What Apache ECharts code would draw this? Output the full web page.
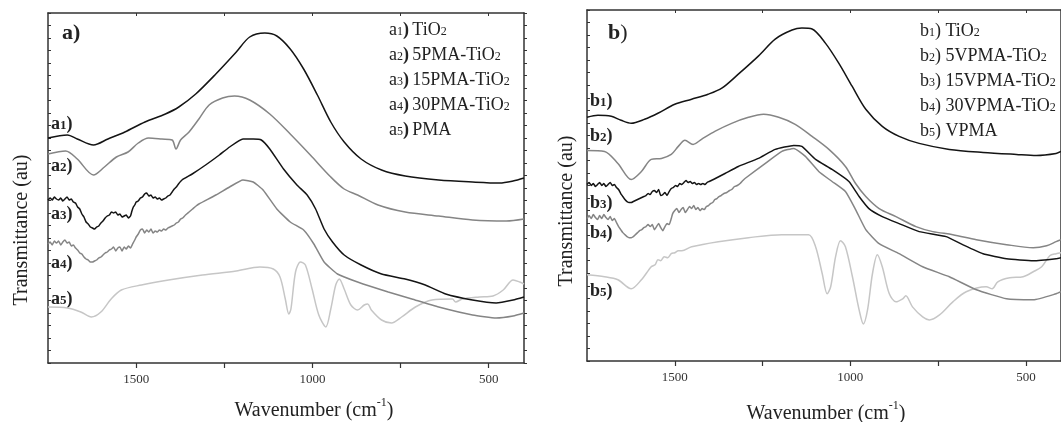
<!DOCTYPE html>
<html>
<head>
<meta charset="utf-8">
<script src="https://cdn.jsdelivr.net/npm/echarts@6/dist/echarts.min.js"></script>
<style>
html,body{margin:0;padding:0;background:#fff;}
#chart{width:1061px;height:422px;}
</style>
</head>
<body>
<div id="chart"></div>
<script>
// ---- Data: [wavenumber (cm-1), transmittance (au)] ----
const xTicks = [1500, 1250, 1000, 750, 500];
const xLabels = [1500, 1000, 500];

// Panel a
const a1 = [[1750,225],[1695,228],[1667,224],[1621,218],[1580,224],[1532,231],[1475,241],[1417,249],[1379,256],[1331,269],[1274,289],[1216,311],[1178,326],[1135,330],[1101,327],[1063,314],[1025,294],[986,268],[948,241],[910,221],[862,204],[804,193],[737,187],[642,183],[546,181],[469,180],[431,182],[400,185]];
const a2 = [[1750,209],[1700,212],[1667,204],[1621,188],[1590,196],[1556,206],[1523,211],[1494,220],[1465,225],[1427,224],[1398,223],[1387,214],[1374,223],[1350,231],[1322,244],[1293,258],[1255,265],[1221,267],[1178,263],[1121,249],[1063,229],[1006,208],[948,186],[910,174],[872,168],[814,158],[737,151],[642,147],[546,143],[450,142],[400,144]];
const a3 = [[1750,163],[1744,165],[1738,163],[1732,166],[1726,164],[1720,163],[1714,165],[1708,162],[1702,164],[1696,166],[1690,163],[1684,164],[1678,161],[1672,160],[1666,156],[1660,154],[1654,149],[1648,146],[1642,141],[1636,139],[1630,136],[1624,135],[1618,134],[1612,136],[1606,137],[1600,140],[1594,142],[1588,145],[1582,147],[1576,148],[1570,151],[1564,150],[1558,151],[1552,148],[1546,149],[1540,146],[1534,147],[1528,148],[1522,145],[1516,147],[1512,152],[1508,156],[1504,158],[1500,161],[1494,162],[1488,165],[1482,166],[1476,169],[1470,170],[1464,167],[1458,168],[1452,165],[1446,166],[1440,164],[1434,165],[1428,163],[1422,164],[1416,165],[1410,167],[1404,168],[1398,171],[1392,174],[1386,176],[1380,179],[1370,183],[1341,189],[1303,198],[1264,208],[1235,216],[1197,224],[1168,224],[1145,223],[1121,214],[1082,194],[1044,178],[1015,168],[991,154],[967,134],[943,121],[910,108],[862,98],[804,89],[737,84],[680,78],[622,69],[546,63],[479,60],[431,63],[400,66]];
const a4 = [[1750,119],[1744,121],[1738,118],[1732,122],[1726,120],[1720,122],[1714,118],[1708,121],[1702,123],[1696,120],[1690,121],[1684,117],[1678,118],[1672,115],[1666,113],[1660,110],[1654,109],[1648,106],[1642,104],[1636,103],[1630,101],[1624,101],[1618,102],[1612,103],[1606,105],[1600,106],[1594,108],[1588,110],[1582,111],[1576,113],[1570,114],[1564,116],[1558,112],[1552,115],[1546,116],[1540,112],[1534,116],[1528,114],[1522,117],[1516,115],[1510,119],[1504,123],[1500,126],[1494,129],[1488,133],[1482,134],[1476,130],[1470,133],[1464,131],[1458,134],[1452,130],[1446,132],[1440,131],[1434,133],[1428,132],[1422,134],[1416,133],[1410,135],[1404,136],[1398,137],[1392,138],[1386,140],[1380,141],[1374,144],[1368,145],[1360,148],[1350,151],[1340,154],[1330,157],[1322,159],[1274,168],[1235,176],[1197,183],[1168,181],[1140,173],[1101,154],[1063,141],[1025,133],[996,119],[967,101],[929,89],[872,81],[785,71],[718,64],[642,56],[546,48],[479,45],[431,47],[400,50]];
const a5 = [[1750,56],[1695,55],[1657,51],[1627,46],[1600,51],[1571,64],[1542,73],[1485,78],[1408,83],[1312,88],[1216,92],[1149,96],[1111,94],[1092,86],[1077,64],[1067,49],[1061,54],[1048,91],[1034,101],[1020,98],[1001,74],[982,48],[962,36],[948,54],[934,78],[924,84],[910,74],[891,58],[872,53],[853,58],[843,59],[833,53],[804,43],[776,40],[747,46],[708,56],[661,63],[603,64],[594,61],[575,64],[527,66],[488,67],[459,73],[431,83],[412,81],[400,79]];

// Panel b
const b1 = [[1750,243],[1719,245],[1681,244],[1653,240],[1624,237],[1586,241],[1548,247],[1500,256],[1452,261],[1405,266],[1366,272],[1319,286],[1262,304],[1214,321],[1166,330],[1138,332],[1109,331],[1071,317],[1033,297],[995,274],[956,251],[909,234],[861,224],[804,217],[718,211],[622,208],[527,206],[470,205],[414,207],[400,209]];
const b2 = [[1750,210],[1700,209],[1662,197],[1624,181],[1595,189],[1567,201],[1538,202],[1510,206],[1490,214],[1471,220],[1448,216],[1424,221],[1386,229],[1338,237],[1290,243],[1247,246],[1204,243],[1157,236],[1109,224],[1061,211],[1014,194],[985,177],[956,164],[918,152],[870,144],[813,134],[765,129],[708,126],[641,121],[555,116],[479,113],[441,115],[414,119],[400,121]];
const b3 = [[1750,176],[1744,178],[1738,175],[1732,177],[1726,174],[1720,176],[1714,178],[1708,175],[1702,177],[1696,174],[1690,176],[1684,178],[1678,175],[1672,176],[1666,173],[1660,171],[1654,167],[1648,164],[1642,161],[1636,159],[1630,158],[1624,158],[1618,159],[1612,160],[1606,161],[1600,162],[1594,163],[1588,164],[1582,165],[1576,167],[1570,166],[1564,169],[1558,170],[1552,168],[1546,171],[1540,165],[1534,166],[1528,168],[1522,165],[1516,169],[1510,172],[1504,173],[1498,175],[1492,174],[1486,177],[1480,176],[1474,178],[1468,180],[1462,178],[1456,179],[1450,177],[1444,178],[1438,176],[1432,177],[1426,176],[1420,177],[1414,176],[1408,178],[1402,179],[1396,180],[1390,181],[1357,187],[1319,194],[1262,202],[1214,211],[1161,215],[1138,214],[1099,201],[1052,191],[1004,179],[975,164],[947,152],[909,144],[861,137],[804,129],[727,124],[680,116],[622,107],[555,102],[479,100],[414,102],[400,103]];
const b4 = [[1750,142],[1744,145],[1738,142],[1732,146],[1726,143],[1720,141],[1714,145],[1708,142],[1702,146],[1696,143],[1690,141],[1684,144],[1678,140],[1672,142],[1666,138],[1660,134],[1654,131],[1648,128],[1642,126],[1636,124],[1630,123],[1624,123],[1618,124],[1612,126],[1606,128],[1600,130],[1594,131],[1588,133],[1582,134],[1576,136],[1570,134],[1564,136],[1558,131],[1552,134],[1546,137],[1540,133],[1534,130],[1528,134],[1522,137],[1516,136],[1510,142],[1506,147],[1500,150],[1494,152],[1488,148],[1482,151],[1476,153],[1470,148],[1464,151],[1458,154],[1452,152],[1446,155],[1440,151],[1434,153],[1428,150],[1422,152],[1416,151],[1410,154],[1404,155],[1398,157],[1392,158],[1386,161],[1380,162],[1374,164],[1368,165],[1360,167],[1352,168],[1344,170],[1338,171],[1330,174],[1322,175],[1314,177],[1306,180],[1300,182],[1242,197],[1195,209],[1161,212],[1128,204],[1090,189],[1052,179],[1014,169],[985,151],[956,131],[918,117],[861,107],[794,94],[718,84],[641,71],[555,62],[479,61],[414,67],[400,69]];
const b5 = [[1750,86],[1700,84],[1662,81],[1624,72],[1595,81],[1567,94],[1556,96],[1548,101],[1540,100],[1530,104],[1520,103],[1510,107],[1500,108],[1490,110],[1480,110],[1452,114],[1376,119],[1290,123],[1195,126],[1119,126],[1099,114],[1080,87],[1066,67],[1056,74],[1042,104],[1028,120],[1014,114],[994,84],[975,51],[963,37],[951,51],[937,87],[923,106],[909,94],[889,67],[870,59],[851,62],[842,65],[823,54],[794,44],[775,41],[746,46],[708,59],[670,69],[613,74],[596,72],[580,79],[546,83],[508,84],[479,89],[455,94],[432,105],[414,107],[400,108]];

const legendA = ['TiO', '5PMA-TiO', '15PMA-TiO', '30PMA-TiO', 'PMA'];
const legendB = ['TiO', '5VPMA-TiO', '15VPMA-TiO', '30VPMA-TiO', 'VPMA'];

// ---- Styling ----
const SERIF = 'Liberation Serif, Times New Roman, serif';
const BLACK = '#141414', GRAY = '#858585', LIGHT = '#c6c6c6';
const axisCol = '#333';

function xAxes(gi) {
  const base = {
    gridIndex: gi, type: 'value', min: 400, max: 1750, inverse: true,
    splitLine: {show: false},
    axisLine: {show: true, onZero: false, lineStyle: {color: axisCol, width: 1.5}}
  };
  return [
    Object.assign({}, base, {
      position: 'bottom',
      axisTick: {show: true, inside: false, length: 5, customValues: xTicks, lineStyle: {color: axisCol, width: 1.2}},
      axisLabel: {show: true, customValues: xLabels, formatter: v => String(v), fontFamily: SERIF, fontSize: 13, color: '#333', margin: 10}
    }),
    Object.assign({}, base, {
      position: 'top',
      axisTick: {show: true, inside: true, length: 3, customValues: xTicks, lineStyle: {color: axisCol}},
      axisLabel: {show: false}
    })
  ];
}
function yAxes(gi) {
  const base = {
    gridIndex: gi, type: 'value', min: 0, max: 350, interval: 12.5,
    splitLine: {show: false}, axisLabel: {show: false},
    axisLine: {show: true, onZero: false, lineStyle: {color: axisCol, width: 1.5}}
  };
  return [
    Object.assign({}, base, {position: 'left', axisTick: {show: true, inside: true, length: 3, lineStyle: {color: axisCol}}}),
    Object.assign({}, base, {position: 'right', axisTick: {show: true, inside: false, length: 3, lineStyle: {color: axisCol}}})
  ];
}

function line(data, xi, yi, color, noisy) {
  return {
    type: 'line', data: data, xAxisIndex: xi, yAxisIndex: yi,
    showSymbol: false, symbol: 'none', smooth: noisy ? 0.15 : 0.3,
    lineStyle: {color: color, width: 1.5}, silent: true, animation: false
  };
}

const graphics = [];
function txt(x, y, text, rich) {
  graphics.push({
    type: 'text', x: x, y: y,
    style: {text: text, rich: rich, fill: '#222', align: 'left', verticalAlign: 'middle'}
  });
}
const richLabel = {
  b: {fontFamily: SERIF, fontSize: 18, fontWeight: 'bold', color: '#222', lineHeight: 20, verticalAlign: 'bottom'},
  s: {fontFamily: SERIF, fontSize: 13, fontWeight: 'bold', color: '#222', lineHeight: 20, verticalAlign: 'bottom', padding: [0,0,1,0]},
  n: {fontFamily: SERIF, fontSize: 18, color: '#222', lineHeight: 20, verticalAlign: 'bottom'}
};
const richLeg = {
  n: {fontFamily: SERIF, fontSize: 18, color: '#222', lineHeight: 22, verticalAlign: 'bottom'},
  s: {fontFamily: SERIF, fontSize: 12, color: '#222', lineHeight: 22, verticalAlign: 'bottom', padding: [0,0,1,0]},
  bn: {fontFamily: SERIF, fontSize: 18, fontWeight: 'bold', color: '#222', lineHeight: 22, verticalAlign: 'bottom'}
};
const richTitle = {
  n: {fontFamily: SERIF, fontSize: 20, color: '#222', lineHeight: 24, verticalAlign: 'bottom'},
  sup: {fontFamily: SERIF, fontSize: 12, color: '#222', lineHeight: 24, verticalAlign: 'top'}
};

// panel letters
txt(62, 34, '{b|a)}', {b: Object.assign({}, richLabel.b, {fontSize: 22})});
txt(608, 34, '{b|b}{n|)}', {b: Object.assign({}, richLabel.b, {fontSize: 22}), n: Object.assign({}, richLabel.n, {fontSize: 22})});

// curve labels
const labA = [123, 165, 213, 262, 298];
const labB = [100, 135, 202, 232, 290];
labA.forEach((y, i) => txt(51, y, '{b|a}{s|' + (i + 1) + '}{b|)}', richLabel));
labB.forEach((y, i) => txt(590, y, '{b|b}{s|' + (i + 1) + '}{b|)}', richLabel));

// legends
const legYA = [28, 53, 78, 103, 128];
const legYB = [29, 54, 79, 104, 129];
legendA.forEach((t, i) => {
  const sub = t.endsWith('TiO') ? '{s|2}' : '';
  txt(389, legYA[i], '{n|a}{s|' + (i + 1) + '}{bn|)} {n|' + t + '}' + sub, richLeg);
});
legendB.forEach((t, i) => {
  const sub = t.endsWith('TiO') ? '{s|2}' : '';
  txt(920, legYB[i], '{n|b}{s|' + (i + 1) + '}{n|) ' + t + '}' + sub, richLeg);
});

// axis titles
function titleText(x, y, text, rot) {
  graphics.push({type: 'text', x: x, y: y, rotation: rot || 0,
    style: {text: text, rich: richTitle, fill: '#222', align: 'center', verticalAlign: 'middle'}});
}
titleText(20, 230, '{n|Transmittance (au)}', Math.PI / 2);
titleText(565, 211, '{n|Transmittance (au)}', Math.PI / 2);
titleText(314, 409, '{n|Wavenumber (cm}{sup|-1}{n|)}');
titleText(826, 412, '{n|Wavenumber (cm}{sup|-1}{n|)}');

const chart = echarts.init(document.getElementById('chart'), null, {renderer: 'canvas'});
chart.setOption({
  backgroundColor: '#fff',
  animation: false,
  grid: [
    {left: 48, top: 13, width: 476, height: 350},
    {left: 587, top: 10, width: 478, height: 351}
  ],
  xAxis: [].concat(xAxes(0), xAxes(1)),
  yAxis: [].concat(yAxes(0), yAxes(1)),
  series: [
    line(a5, 0, 0, LIGHT), line(a4, 0, 0, GRAY, true), line(a3, 0, 0, BLACK, true), line(a2, 0, 0, GRAY), line(a1, 0, 0, BLACK),
    line(b5, 2, 2, LIGHT), line(b4, 2, 2, GRAY, true), line(b3, 2, 2, BLACK, true), line(b2, 2, 2, GRAY), line(b1, 2, 2, BLACK)
  ],
  graphic: graphics
});
</script>
</body>
</html>
